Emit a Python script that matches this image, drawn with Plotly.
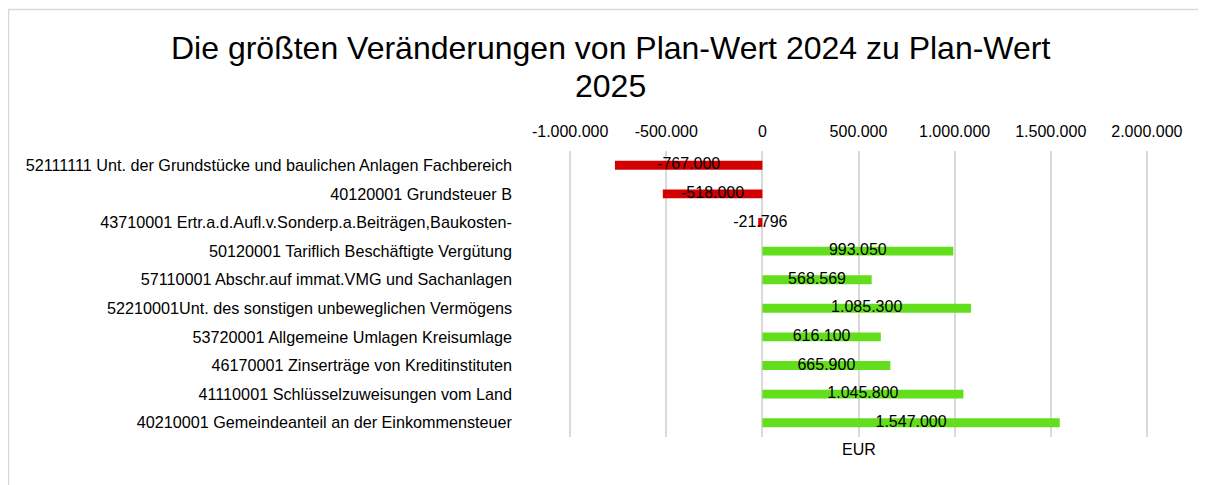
import plotly.graph_objects as go

categories = [
    "52111111 Unt. der Grundstücke und baulichen Anlagen Fachbereich",
    "40120001 Grundsteuer B",
    "43710001 Ertr.a.d.Aufl.v.Sonderp.a.Beiträgen,Baukosten-",
    "50120001 Tariflich Beschäftigte Vergütung",
    "57110001 Abschr.auf immat.VMG und Sachanlagen",
    "52210001Unt. des sonstigen unbeweglichen Vermögens",
    "53720001 Allgemeine Umlagen Kreisumlage",
    "46170001 Zinserträge von Kreditinstituten",
    "41110001 Schlüsselzuweisungen vom Land",
    "40210001 Gemeindeanteil an der Einkommensteuer",
]
values = [-767000, -518000, -21796, 993050, 568569, 1085300, 616100, 665900, 1045800, 1547000]
tick_vals = [-1000000, -500000, 0, 500000, 1000000, 1500000, 2000000]
title_lines = ["Die größten Veränderungen von Plan-Wert 2024 zu Plan-Wert", "2025"]
axis_title = "EUR"


def fmt(v):
    s = f"{abs(v):,}".replace(",", ".")
    return ("-" if v < 0 else "") + s


tick_text = [fmt(v) for v in tick_vals]
label_text = [fmt(v) for v in values]
colors = ["#d20000" if v < 0 else "#63de1c" for v in values]

FONT = "Liberation Sans, Arial, sans-serif"

fig = go.Figure()
fig.add_trace(go.Bar(
    y=categories, x=values, orientation="h",
    marker=dict(color=colors, line=dict(width=0)),
    width=0.31, hoverinfo="skip", showlegend=False,
))
fig.add_trace(go.Scatter(
    y=categories, x=[v / 2 for v in values], mode="text",
    text=label_text, textposition="middle center",
    textfont=dict(family=FONT, size=16, color="#000000"),
    hoverinfo="skip", showlegend=False, cliponaxis=False,
))

OFF = 8  # browser body margin
W, H = 1190, 477
L = 570 - OFF - 1
RIGHT = 1147 - OFF + 1
T = 151 - OFF
BOT = 437 - OFF
R, B = W - RIGHT, H - BOT
pw, ph = RIGHT - L, BOT - T


def px(x):
    return (x - OFF - L) / pw


def py(y):
    return (BOT - (y - OFF)) / ph


fig.update_layout(
    width=W, height=H,
    margin=dict(l=L, r=R, t=T, b=B, autoexpand=False),
    paper_bgcolor="white", plot_bgcolor="white",
    font=dict(family=FONT, color="#000000"),
    xaxis=dict(
        range=[-1006000, 2006000], side="top",
        tickvals=tick_vals, ticktext=tick_text,
        tickfont=dict(family=FONT, size=16, color="#000000"),
        showgrid=True, gridcolor="#d9d9d9", gridwidth=2,
        zeroline=False, showline=False, ticks="", ticklabelstandoff=10,
        fixedrange=True,
    ),
    yaxis=dict(
        categoryorder="array", categoryarray=categories, autorange="reversed",
        tickfont=dict(family=FONT, size=16.2, color="#000000"),
        showgrid=False, zeroline=False, showline=False, ticks="",
        ticklabelstandoff=56, fixedrange=True,
    ),
    bargap=0.69,
    annotations=[
        dict(
            text=title_lines[0],
            x=px(610), y=py(48), xref="paper", yref="paper",
            xanchor="center", yanchor="middle", showarrow=False,
            font=dict(family=FONT, size=32, color="#000000"),
        ),
        dict(
            text=title_lines[1],
            x=px(610), y=py(86), xref="paper", yref="paper",
            xanchor="center", yanchor="middle", showarrow=False,
            font=dict(family=FONT, size=32, color="#000000"),
        ),
        dict(
            text=axis_title, x=0.5, y=py(449), xref="paper", yref="paper",
            xanchor="center", yanchor="middle", showarrow=False,
            font=dict(family=FONT, size=16, color="#000000"),
        ),
    ],
    shapes=[
        dict(
            type="rect", xref="paper", yref="paper",
            x0=px(8.5), x1=px(1230), y0=py(9.5), y1=py(520),
            line=dict(color="#d9d9d9", width=1.5), fillcolor="rgba(0,0,0,0)",
            layer="below",
        )
    ],
)

fig.write_html("out.html")
